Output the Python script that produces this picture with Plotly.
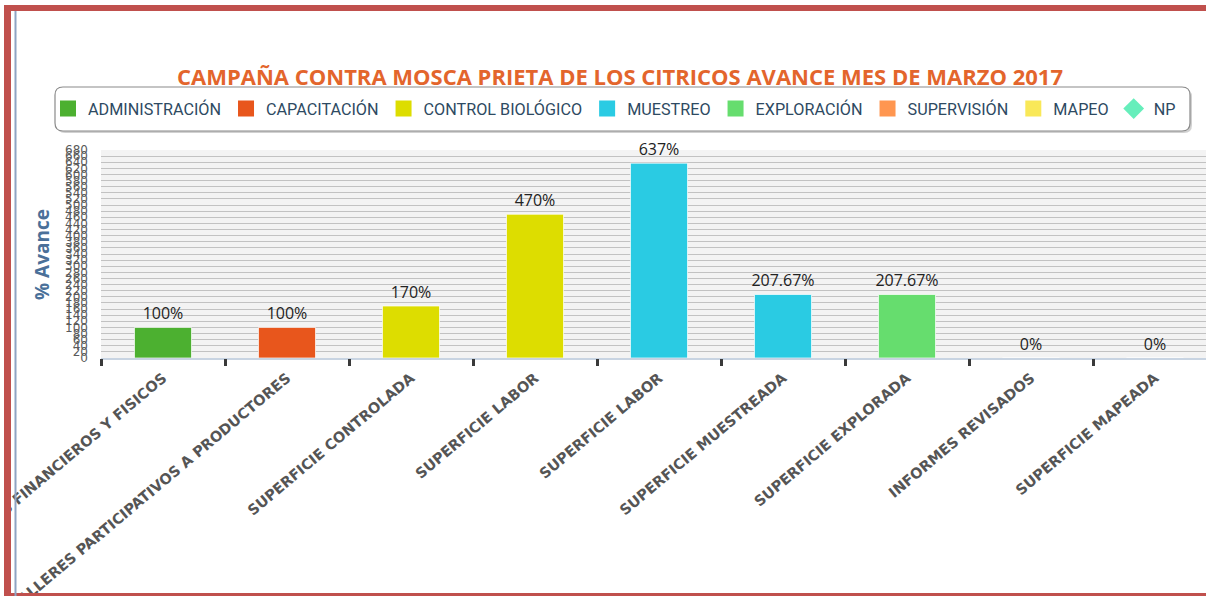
import plotly.graph_objects as go

# ---------------- data ----------------
categories = [
    "INFORMES FINANCIEROS Y FISICOS",
    "TALLERES PARTICIPATIVOS A PRODUCTORES",
    "SUPERFICIE CONTROLADA",
    "SUPERFICIE LABOR",
    "SUPERFICIE LABOR",
    "SUPERFICIE MUESTREADA",
    "SUPERFICIE EXPLORADA",
    "INFORMES REVISADOS",
    "SUPERFICIE MAPEADA",
]
values = [100, 100, 170, 470, 637, 207.67, 207.67, 0, 0]
bar_colors = ["#4CB030", "#E8561C", "#DDDD00", "#DDDD00", "#2ACBE3",
              "#2ACBE3", "#66DD6E", "#F9E858", "#F9E858"]

legend_names = ["ADMINISTRACIÓN", "CAPACITACIÓN", "CONTROL BIOLÓGICO", "MUESTREO",
                "EXPLORACIÓN", "SUPERVISIÓN", "MAPEO", "NP"]
legend_colors = ["#4CB030", "#E8561C", "#DDDD00", "#2ACBE3",
                 "#66DD6E", "#FF9650", "#F9E858", "#66EEBB"]
legend_symbols = ["square"] * 7 + ["diamond"]

title_text = "CAMPAÑA CONTRA MOSCA PRIETA DE LOS CITRICOS AVANCE MES DE MARZO 2017"
y_title = "% Avance"

# ---------------- layout geometry (pixels) ----------------
W, H = 1206, 596
L, R_EDGE, TOP, BOT = 101, 1206, 150, 358
pw, ph = R_EDGE - L, BOT - TOP


def px(xp):
    return (xp - L) / pw


def py(yp):
    return (BOT - yp) / ph


idx = list(range(len(categories)))
cat_w = 124.0
x_hi = -0.5 + pw / cat_w

fig = go.Figure()

fig.add_trace(go.Bar(
    x=idx, y=values,
    marker=dict(color=bar_colors, line=dict(color="rgba(255,255,255,0.7)", width=1)),
    width=0.46,
    text=[f"{v:g}%" for v in values],
    textposition="outside",
    constraintext="none",
    cliponaxis=False,
    textfont=dict(family="Open Sans", size=16, color="#222222"),
    showlegend=False,
    hoverinfo="skip",
))

for name, col, sym in zip(legend_names, legend_colors, legend_symbols):
    fig.add_trace(go.Scatter(
        x=[None], y=[None], mode="markers", name=name,
        marker=dict(color=col, symbol=sym, size=18, line=dict(width=0)),
    ))

# invisible trace to anchor the boundary-tick axis
fig.add_trace(go.Scatter(x=[None], y=[None], xaxis="x2", showlegend=False))


def rrect(x0, y0, x1, y1, r):
    rx, ry = r / pw, r / ph
    X0, X1 = px(x0), px(x1)
    Y0, Y1 = py(y0), py(y1)  # Y0 top, Y1 bottom
    return (f"M {X0+rx},{Y0} L {X1-rx},{Y0} Q {X1},{Y0} {X1},{Y0-ry} "
            f"L {X1},{Y1+ry} Q {X1},{Y1} {X1-rx},{Y1} L {X0+rx},{Y1} "
            f"Q {X0},{Y1} {X0},{Y1+ry} L {X0},{Y0-ry} Q {X0},{Y0} {X0+rx},{Y0} Z")


shapes = [
    # legend box shadow + box
    dict(type="path", xref="paper", yref="paper", layer="below",
         path=rrect(57, 89, 1192, 133, 8),
         fillcolor="rgba(0,0,0,0.18)", line=dict(width=0)),
    dict(type="path", xref="paper", yref="paper", layer="below",
         path=rrect(55, 87, 1190, 131, 8),
         fillcolor="white", line=dict(color="#8A8A8A", width=1.2)),
    # frame
    dict(type="rect", xref="paper", yref="paper", layer="above",
         x0=px(-5), x1=px(4), y0=py(600), y1=py(0),
         fillcolor="white", line=dict(width=0)),
    dict(type="rect", xref="paper", yref="paper", layer="above",
         x0=px(4), x1=px(1210), y0=py(11), y1=py(5),
         fillcolor="#C0504D", line=dict(width=0)),
    dict(type="rect", xref="paper", yref="paper", layer="above",
         x0=px(4), x1=px(11), y0=py(600), y1=py(5),
         fillcolor="#C0504D", line=dict(width=0)),
    dict(type="rect", xref="paper", yref="paper", layer="above",
         x0=px(4), x1=px(1210), y0=py(600), y1=py(593),
         fillcolor="#C0504D", line=dict(width=0)),
    dict(type="rect", xref="paper", yref="paper", layer="above",
         x0=px(14.5), x1=px(16.5), y0=py(600), y1=py(11),
         fillcolor="#8EA4C4", line=dict(width=0)),
]

fig.update_layout(
    width=W, height=H,
    margin=dict(l=L, r=W - R_EDGE, t=TOP, b=H - BOT, autoexpand=False),
    paper_bgcolor="white",
    plot_bgcolor="#F3F3F3",
    barmode="overlay",
    title=dict(text=title_text, xref="container", x=620 / W, xanchor="center",
               yref="container", y=1 - 77 / H, yanchor="middle",
               font=dict(family="Open Sans", size=22, color="#E3652C", weight="bold")),
    legend=dict(orientation="h", xref="paper", yref="paper",
                x=px(48), xanchor="left", y=py(109), yanchor="middle",
                bgcolor="rgba(0,0,0,0)", borderwidth=0,
                font=dict(family="Roboto", size=16.2, color="#2E4A62"),
                itemclick=False, itemdoubleclick=False),
    xaxis=dict(
        range=[-0.5, x_hi], tickmode="array", tickvals=idx, ticktext=categories,
        tickangle=-40, ticks="", showgrid=False, zeroline=False,
        showline=True, linecolor="#C8D4E2", linewidth=2,
        tickfont=dict(family="DejaVu Sans", size=14.5, color="#555555", weight="bold"),
        ticklabelstandoff=4, ticklabeloverflow="allow",
        automargin=False, fixedrange=True,
    ),
    xaxis2=dict(
        overlaying="x", anchor="y", side="bottom", range=[-0.5, x_hi],
        tickmode="array", tickvals=[i - 0.5 for i in idx], showticklabels=False,
        ticks="outside", ticklen=7, tickwidth=3, tickcolor="#3A3A3A",
        showgrid=False, zeroline=False, showline=False, fixedrange=True,
    ),
    yaxis=dict(
        range=[0, 680], dtick=20, tick0=0, showgrid=True, gridcolor="#C2C2C2", gridwidth=1,
        zeroline=False, ticks="", showline=False,
        tickfont=dict(family="DejaVu Sans", size=12, color="#5A5A5A"),
        ticklabelstandoff=12, automargin=False, fixedrange=True,
    ),
    shapes=shapes,
    annotations=[dict(text=y_title, xref="paper", yref="paper",
                      x=px(42), y=py(255), textangle=-90, showarrow=False,
                      xanchor="center", yanchor="middle",
                      font=dict(family="Open Sans", size=19, color="#4A7099", weight="bold"))],
)

fig.write_html("out.html", config={"displayModeBar": False},
               post_script="document.body.style.margin='0';")
